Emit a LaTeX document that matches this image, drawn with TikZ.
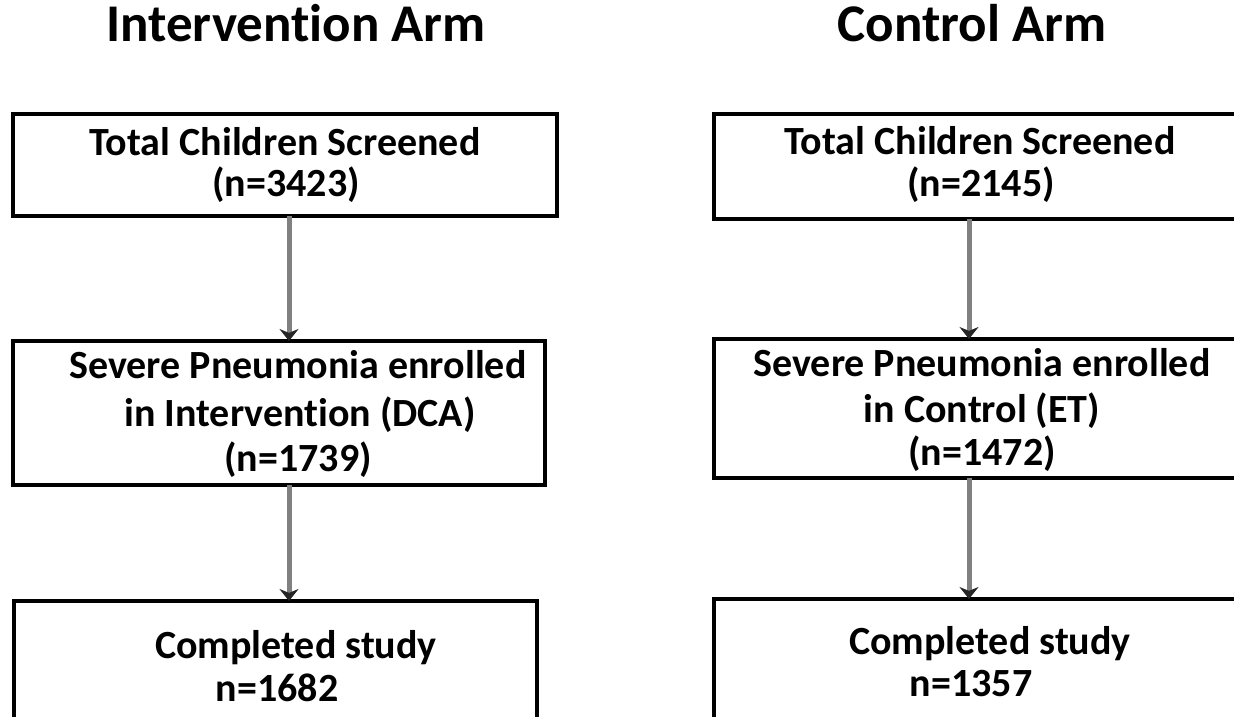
\documentclass[tikz,border=0pt]{standalone}
\usepackage{fontspec}
\setmainfont{Carlito}[Ligatures={NoCommon}]
\usetikzlibrary{arrows.meta}
\begin{document}
\begin{tikzpicture}[x=1pt,y=1pt,
  box/.style={draw=black, line width=4.5pt, inner sep=0pt, outer sep=0pt},
  txt/.style={font=\fontsize{40}{47}\selectfont\bfseries, anchor=base, inner sep=0pt},
  ttl/.style={font=\fontsize{53}{60}\selectfont\bfseries, anchor=base, inner sep=0pt},
  arr/.style={draw=black!50, line width=5pt, -{Stealth[length=12pt,width=19pt,color=black!85]}}]
\fill[white] (0,0) rectangle (1234,716);
\useasboundingbox (0,0) rectangle (1234,716);
% titles
\node[ttl] (TL) at (296,674) {Intervention Arm};
\node[ttl] (TR) at (972,674) {Control Arm};
% boxes
\node[box, minimum width=544, minimum height=102] (L1) at (285,551) {};
\node[box, minimum width=532, minimum height=144] (L2) at (279,303) {};
\node[box, minimum width=523, minimum height=129] (L3) at (275.5,50.5) {};
\node[box, minimum width=546, minimum height=105] (R1) at (987,549.5) {};
\node[box, minimum width=546, minimum height=139] (R2) at (987,307.5) {};
\node[box, minimum width=546, minimum height=131] (R3) at (987,51.5) {};
% texts
\node[txt] (L1a) at (285,560) {Total Children Screened};
\node[txt] (L1b) at (286,519) {(n=3423)};
\node[txt] (L2a) at (298,338) {Severe Pneumonia enrolled};
\node[txt] (L2b) at (300,290) {in Intervention (DCA)};
\node[txt] (L2c) at (298,245) {(n=1739)};
\node[txt] (L3a) at (296,58) {Completed study};
\node[txt] (L3b) at (277,15) {n=1682};
\node[txt] (R1a) at (980,561) {Total Children Screened};
\node[txt] (R1b) at (981,519) {(n=2145)};
\node[txt] (R2a) at (982,340) {Severe Pneumonia enrolled};
\node[txt] (R2b) at (982,294) {in Control (ET)};
\node[txt] (R2c) at (982,251) {(n=1472)};
\node[txt] (R3a) at (990,62) {Completed study};
\node[txt] (R3b) at (971,20) {n=1357};
% arrows
\draw[arr] (L1.south -| 289,0) -- (L2.north -| 289,0);
\draw[arr] (L2.south -| 289,0) -- (L3.north -| 289,0);
\draw[arr] (R1.south -| 969,0) -- (R2.north -| 969,0);
\draw[arr] (R2.south -| 969,0) -- (R3.north -| 969,0);
\end{tikzpicture}
\end{document}
